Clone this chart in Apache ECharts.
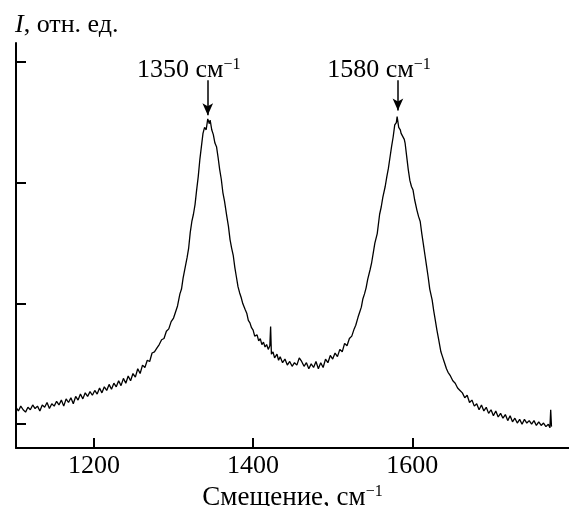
<!DOCTYPE html>
<html>
<head>
<meta charset="utf-8">
<script src="https://cdn.jsdelivr.net/npm/echarts@6/dist/echarts.min.js"></script>
<style>html,body{margin:0;padding:0;background:#fff}#c{width:569px;height:506px}</style>
</head>
<body>
<div id="c"></div>
<script>
// Raman shift, cm^-1
const shift = [
1102,1105,1108,1111,1114,1117,1120,1123,1126,1129,1132,1135,1138,1141,1144,1147,1150,1153,1156,1159,
1162,1165,1168,1171,1174,1177,1180,1183,1186,1189,1192,1195,1198,1201,1204,1207,1210,1213,1216,1219,
1222,1225,1228,1231,1234,1237,1240,1243,1246,1249,1252,1255,1258,1261,1264,1267,1270,1273,1276,1279,
1282,1285,1288,1291,1294,1297,1300,1302,1305,1308,1310,1312,1314,1317,1319,1321,1323,1325,1327,1329,
1331,1333,1335,1337,1339,1341,1343,1345,1346,1348,1350,1352,1354,1356,1358,1360,1362,1364,1367,1369,
1371,1373,1375,1377,1379,1381,1383,1385,1387,1390,1392,1394,1396,1398,1400,1402,1405,1407,1409,1411,
1413,1415,1417,1419,1421,1422,1423,1425,1427,1430,1432,1434,1437,1440,1443,1446,1449,1452,1455,1458,
1461,1464,1467,1470,1473,1476,1479,1482,1485,1488,1491,1494,1497,1500,1503,1506,1509,1512,1515,1518,
1521,1524,1527,1529,1532,1534,1536,1538,1540,1542,1544,1547,1549,1551,1553,1556,1559,1561,1563,1566,
1568,1570,1572,1574,1576,1578,1580,1581,1583,1585,1586,1588,1590,1591,1593,1595,1597,1599,1601,1603,
1606,1608,1610,1612,1614,1616,1618,1620,1622,1625,1627,1629,1631,1633,1636,1638,1640,1643,1645,1648,
1651,1654,1657,1660,1663,1666,1669,1672,1675,1678,1681,1684,1687,1690,1693,1696,1699,1702,1705,1708,
1711,1714,1717,1720,1723,1726,1729,1732,1735,1738,1741,1744,1747,1750,1753,1756,1759,1762,1765,1768,
1771,1773,1774,1775
];
// Intensity, arb. units (tick spacing = 1)
const intensity = [
0.14,0.11,0.15,0.12,0.10,0.14,0.12,0.16,0.13,0.15,0.11,0.16,0.14,0.18,0.13,0.17,0.15,0.19,0.16,0.20,
0.15,0.21,0.18,0.22,0.17,0.23,0.20,0.25,0.21,0.26,0.23,0.27,0.24,0.28,0.25,0.30,0.26,0.31,0.28,0.33,
0.29,0.34,0.31,0.36,0.32,0.38,0.34,0.40,0.36,0.42,0.39,0.46,0.42,0.49,0.47,0.53,0.52,0.59,0.60,0.63,
0.66,0.70,0.71,0.77,0.79,0.85,0.88,0.92,0.98,1.08,1.12,1.21,1.28,1.38,1.46,1.59,1.68,1.74,1.82,1.94,
2.05,2.19,2.30,2.41,2.46,2.44,2.53,2.49,2.52,2.44,2.40,2.33,2.30,2.21,2.11,2.03,1.92,1.85,1.72,1.64,
1.53,1.46,1.40,1.30,1.22,1.14,1.09,1.05,1.00,0.95,0.92,0.86,0.84,0.80,0.78,0.73,0.74,0.69,0.71,0.66,
0.68,0.64,0.66,0.62,0.65,0.81,0.58,0.60,0.55,0.58,0.53,0.56,0.51,0.54,0.49,0.52,0.48,0.51,0.49,0.55,
0.52,0.48,0.51,0.46,0.50,0.47,0.52,0.46,0.51,0.47,0.54,0.51,0.57,0.54,0.59,0.56,0.62,0.60,0.67,0.65,
0.71,0.73,0.79,0.82,0.89,0.93,0.97,1.04,1.08,1.13,1.20,1.28,1.34,1.42,1.50,1.58,1.74,1.80,1.88,1.97,
2.05,2.12,2.21,2.30,2.38,2.48,2.50,2.55,2.46,2.44,2.41,2.40,2.36,2.33,2.22,2.11,2.02,1.97,1.94,1.86,
1.77,1.72,1.68,1.58,1.49,1.40,1.31,1.22,1.12,1.03,0.94,0.86,0.78,0.71,0.60,0.56,0.52,0.46,0.43,0.40,
0.36,0.34,0.30,0.28,0.26,0.22,0.24,0.18,0.20,0.15,0.17,0.12,0.16,0.11,0.14,0.09,0.12,0.07,0.11,0.06,
0.09,0.05,0.08,0.03,0.07,0.02,0.05,0.01,0.04,0.00,0.04,0.01,0.03,0.00,0.03,-0.01,0.02,-0.01,0.01,-0.02,
0.00,-0.03,0.12,-0.02
];
const xTicks = [1200, 1400, 1600];
const yTicks = [0, 1, 2, 3];
const peakPos = [1343, 1582];
const peakLabels = ['1350', '1580'];
const arrowTop = 2.85;
const arrowTip = [2.56, 2.60];

const FONT = "'Liberation Serif','Times New Roman',serif";
const data = shift.map((x, i) => [x, intensity[i]]);

const chart = echarts.init(document.getElementById('c'), null, {renderer: 'canvas'});
chart.setOption({
  animation: false,
  backgroundColor: '#fff',
  title: {
    text: '{i|I}, отн. ед.',
    left: 10, top: 7,
    textStyle: {
      fontFamily: FONT, fontSize: 26, fontWeight: 'normal', color: '#000',
      rich: {i: {fontFamily: FONT, fontSize: 26, fontStyle: 'italic', color: '#000'}}
    }
  },
  grid: {left: 16, right: 0, top: 43, bottom: 58, containLabel: false, outerBoundsMode: 'none'},
  xAxis: {
    type: 'value', min: 1102, max: 1797,
    axisLine: {onZero: false, lineStyle: {color: '#000', width: 2}},
    axisTick: {inside: true, length: 10, customValues: xTicks, lineStyle: {color: '#000', width: 2}},
    axisLabel: {customValues: xTicks, margin: 5, fontFamily: FONT, fontSize: 26, color: '#000',
      formatter: v => String(v)},
    splitLine: {show: false},
    name: '{a|Смещение, см}{s|−1}',
    nameLocation: 'middle', nameGap: 33,
    nameTextStyle: {
      rich: {
        a: {fontFamily: FONT, fontSize: 27, color: '#000', lineHeight: 28},
        s: {fontFamily: FONT, fontSize: 16, color: '#000', verticalAlign: 'top', lineHeight: 28}
      }
    }
  },
  yAxis: {
    type: 'value', min: -0.197, max: 3.159,
    axisLine: {show: true, onZero: false, lineStyle: {color: '#000', width: 2}},
    axisTick: {show: true, inside: true, length: 10, customValues: yTicks, lineStyle: {color: '#000', width: 2}},
    axisLabel: {show: false},
    splitLine: {show: false}
  },
  series: [{
    type: 'line', data: data, showSymbol: false, symbol: 'none',
    lineStyle: {color: '#000', width: 1.3}, silent: true,
    markLine: {
      silent: true, animation: false,
      symbol: ['none', 'arrow'], symbolSize: [8, 12],
      lineStyle: {color: '#000', width: 1.5, type: 'solid'},
      label: {
        show: true, position: 'start', distance: 0, offset: [-19, 3],
        formatter: p => '{a|' + p.name + ' см}{s|−1}',
        rich: {
          a: {fontFamily: FONT, fontSize: 26, color: '#000', lineHeight: 26},
          s: {fontFamily: FONT, fontSize: 16, color: '#000', verticalAlign: 'top', lineHeight: 26}
        }
      },
      data: peakPos.map((x, i) => [
        {name: peakLabels[i], coord: [x, arrowTop]},
        {coord: [x, arrowTip[i]]}
      ])
    }
  }]
});
</script>
</body>
</html>
